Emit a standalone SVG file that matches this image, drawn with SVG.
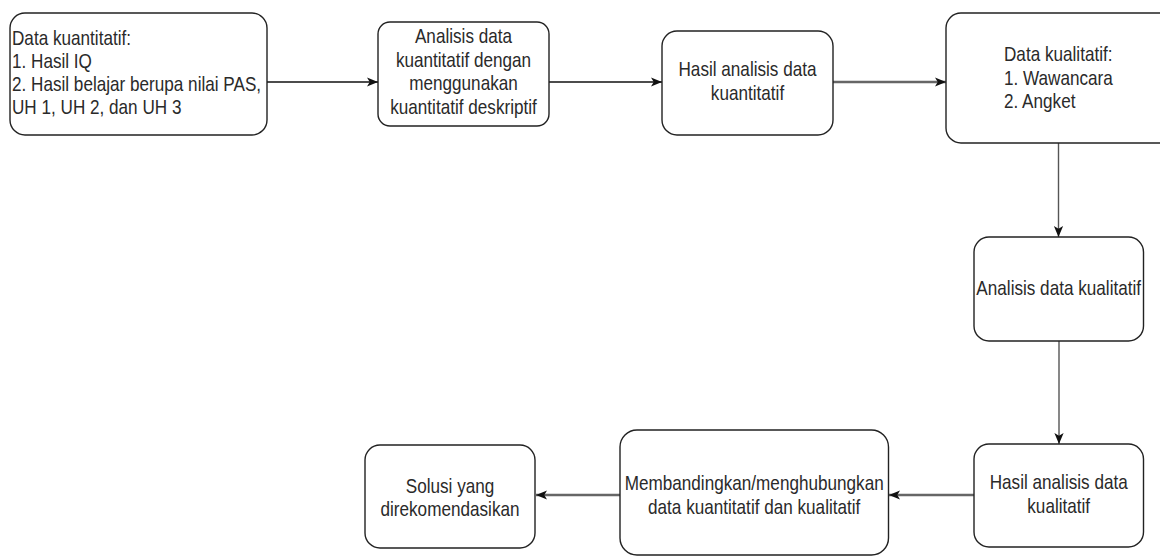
<svg xmlns="http://www.w3.org/2000/svg" width="1160" height="557" viewBox="0 0 1160 557">
<defs>
<style>
.node rect{fill:#fff;stroke:#222;stroke-width:1.4}
.node text{font-family:"Liberation Sans",Arial,sans-serif;font-size:20.4px;fill:#2a2a2a}
.c{text-anchor:middle}
.l{text-anchor:start}
.e{fill:none}
.k{stroke:#111;stroke-width:1.4}
.g{stroke:#555;stroke-width:1.4}
.w{stroke:#666;stroke-width:2.6}
</style>
<marker id="ah" viewBox="0 0 10 10" refX="10" refY="5" markerWidth="11" markerHeight="11" markerUnits="userSpaceOnUse" orient="auto">
<path d="M0,0.8 L10,5 L0,9.2 L2.5,5 z" fill="#111"/>
</marker>
</defs>
<rect width="1160" height="557" fill="#fff"/>
<g id="connectors" class="e">
<line class="k" x1="267" y1="82" x2="378" y2="82" marker-end="url(#ah)"/>
<line class="k" x1="549" y1="82" x2="662" y2="82" marker-end="url(#ah)"/>
<line class="w" x1="833" y1="82" x2="946" y2="82" marker-end="url(#ah)"/>
<line class="g" x1="1058.5" y1="143" x2="1058.5" y2="237" marker-end="url(#ah)"/>
<line class="g" x1="1059" y1="341" x2="1059" y2="444" marker-end="url(#ah)"/>
<line class="w" x1="974" y1="495" x2="889" y2="495" marker-end="url(#ah)"/>
<line class="w" x1="620" y1="495" x2="536" y2="495" marker-end="url(#ah)"/>
</g>
<g id="n1" class="node">
<rect x="10" y="13" width="257" height="122" rx="15"/>
<text class="l" transform="translate(12,0) scale(0.84,1)"><tspan x="0" y="45.5">Data kuantitatif:</tspan><tspan x="0" y="68.5">1. Hasil IQ</tspan><tspan x="0" y="91.5">2. Hasil belajar berupa nilai PAS,</tspan><tspan x="0" y="114.5">UH 1, UH 2, dan UH 3</tspan></text>
</g>
<g id="n2" class="node">
<rect x="378" y="22" width="171" height="104" rx="12"/>
<text class="c" transform="translate(463.5,0) scale(0.84,1)"><tspan x="0" y="43.5">Analisis data</tspan><tspan x="0" y="67">kuantitatif dengan</tspan><tspan x="0" y="90.5">menggunakan</tspan><tspan x="0" y="114">kuantitatif deskriptif</tspan></text>
</g>
<g id="n3" class="node">
<rect x="662" y="31" width="171" height="104" rx="15"/>
<text class="c" transform="translate(747.5,0) scale(0.84,1)"><tspan x="0" y="76.5">Hasil analisis data</tspan><tspan x="0" y="100">kuantitatif</tspan></text>
</g>
<g id="n4" class="node">
<rect x="946" y="13" width="232" height="130" rx="15"/>
<text class="l" transform="translate(1004,0) scale(0.84,1)"><tspan x="0" y="61.5">Data kualitatif:</tspan><tspan x="0" y="85">1. Wawancara</tspan><tspan x="0" y="108.5">2. Angket</tspan></text>
</g>
<g id="n5" class="node">
<rect x="974" y="237" width="169.5" height="104" rx="15"/>
<text class="c" transform="translate(1058.7,0) scale(0.84,1)"><tspan x="0" y="295">Analisis data kualitatif</tspan></text>
</g>
<g id="n6" class="node">
<rect x="974" y="444" width="169.5" height="103" rx="15"/>
<text class="c" transform="translate(1058.7,0) scale(0.84,1)"><tspan x="0" y="489.5">Hasil analisis data</tspan><tspan x="0" y="513">kualitatif</tspan></text>
</g>
<g id="n7" class="node">
<rect x="620" y="430" width="268.5" height="125" rx="17"/>
<text class="c" transform="translate(754.2,0) scale(0.84,1)"><tspan x="0" y="490">Membandingkan/menghubungkan</tspan><tspan x="0" y="514">data kuantitatif dan kualitatif</tspan></text>
</g>
<g id="n8" class="node">
<rect x="365" y="445" width="170" height="103" rx="15"/>
<text class="c" transform="translate(450,0) scale(0.84,1)"><tspan x="0" y="493">Solusi yang</tspan><tspan x="0" y="516.5">direkomendasikan</tspan></text>
</g>
</svg>
